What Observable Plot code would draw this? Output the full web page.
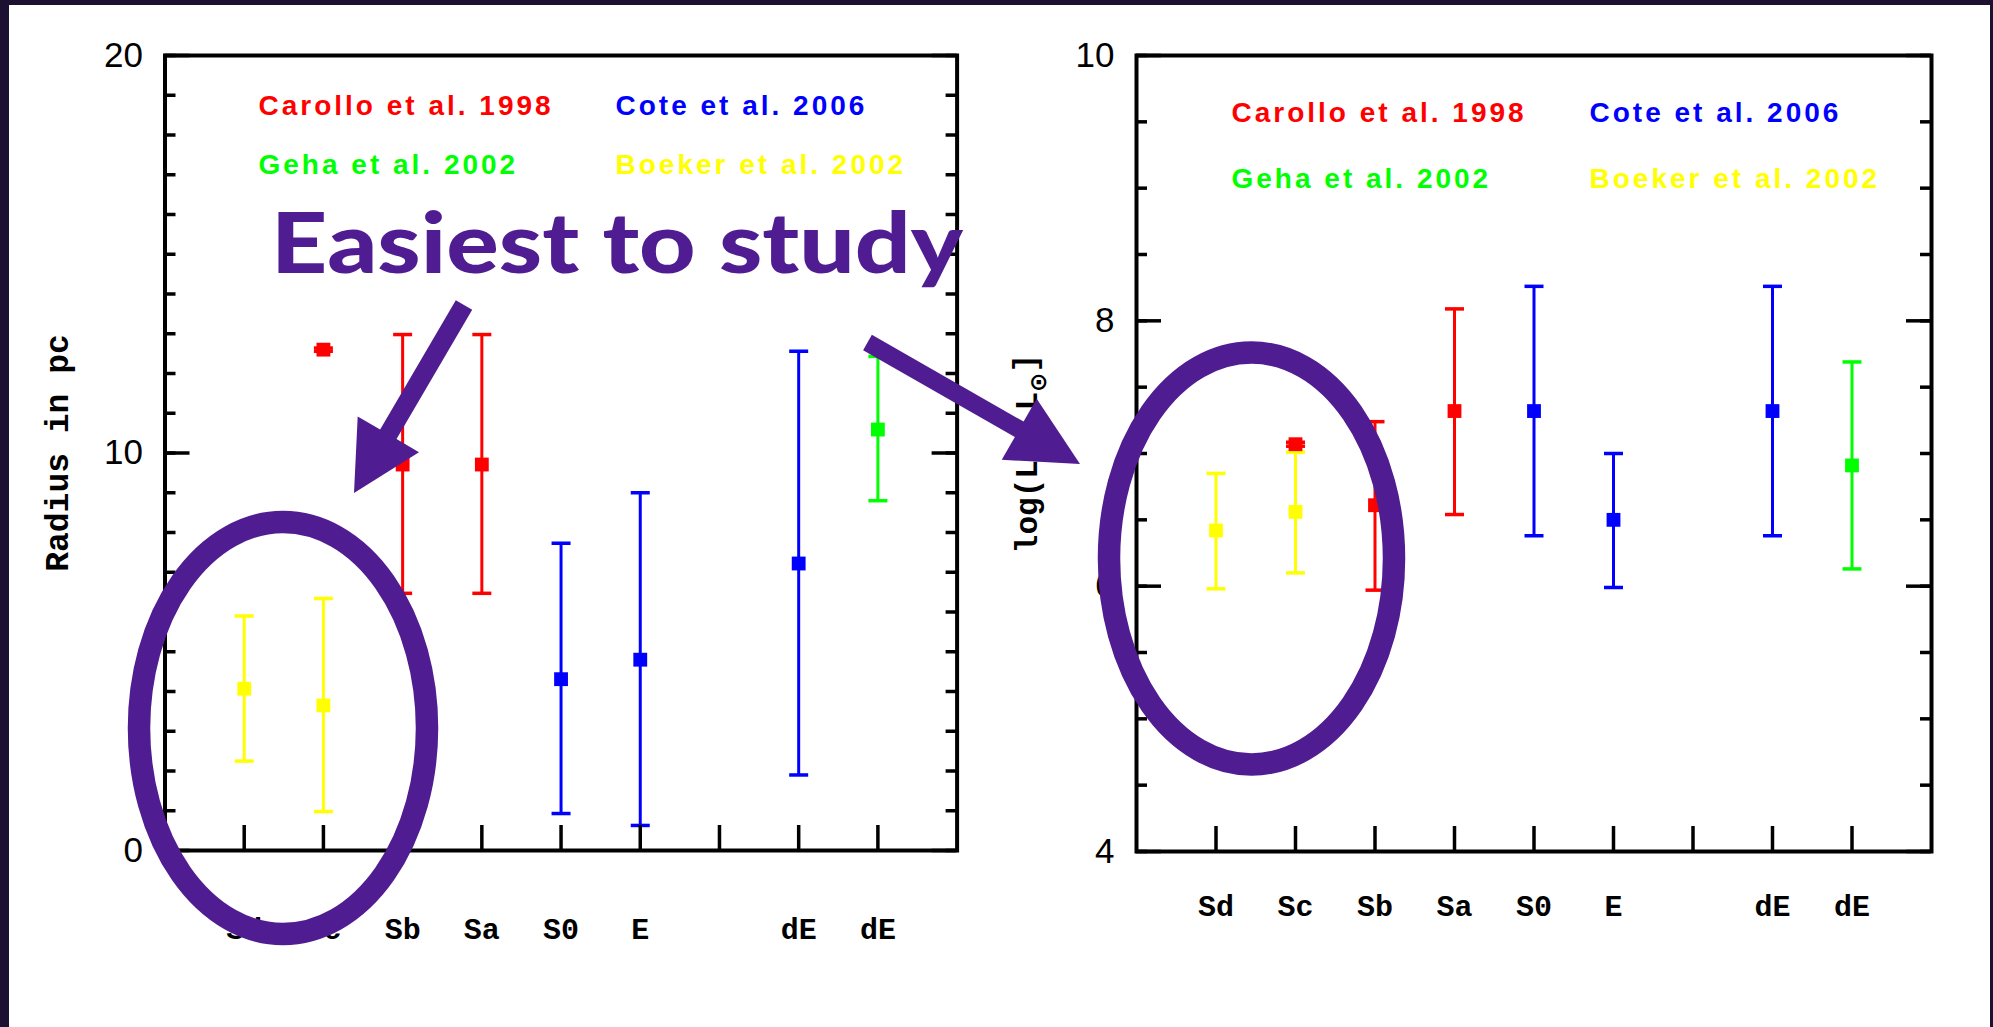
<!DOCTYPE html>
<html><head><meta charset="utf-8">
<script src="https://cdn.jsdelivr.net/npm/d3@7"></script>
<script src="https://cdn.jsdelivr.net/npm/@observablehq/plot@0.6"></script>
<style>
html,body{margin:0;padding:0;width:1993px;height:1027px;overflow:hidden;background:#1c1130;}
#paper{position:absolute;left:9px;top:5px;width:1981px;height:1022px;background:#fff;}
.panel{position:absolute;top:0;}
#overlay{position:absolute;left:0;top:0;pointer-events:none;}
</style></head><body>
<div id="paper"></div>
<div id="left" class="panel" style="left:0px"></div>
<div id="right" class="panel" style="left:1000px"></div>
<svg id="overlay" width="1993" height="1027"></svg>
<script>
// ---- data ----
const categories = ["Sd", "Sc", "Sb", "Sa", "S0", "E", "", "dE", "dE"];
const sources = ["Carollo et al. 1998", "Cote et al. 2006", "Geha et al. 2002", "Boeker et al. 2002"];
const sourceColors = ["#ff0000", "#0000ff", "#00ff00", "#ffff00"];
const legendCol = [0, 1, 0, 1];
const legendRow = [0, 0, 1, 1];

// one entry per measured point: slot on the x axis and source index
const pointSlot =   [1, 2, 2, 3, 4, 5, 6, 8, 9];
const pointSource = [3, 3, 0, 0, 0, 1, 1, 1, 2];

// Radius in pc
const radiusValue = [4.07, 3.65, 12.60, 9.71, 9.71, 4.31, 4.80, 7.22, 10.59];
const radiusLow   = [2.25, 0.98, 12.56, 6.47, 6.47, 0.93, 0.63, 1.90, 8.80];
const radiusHigh  = [5.90, 6.34, 12.64, 12.98, 12.98, 7.73, 9.00, 12.56, 12.43];

// log luminosity
const lumValue = [6.42, 6.56, 7.07, 6.61, 7.32, 7.32, 6.50, 7.32, 6.91];
const lumLow   = [5.98, 6.10, 7.055, 5.97, 6.54, 6.38, 5.99, 6.38, 6.13];
const lumHigh  = [6.85, 7.01, 7.085, 7.24, 8.09, 8.26, 7.00, 8.26, 7.69];

const radiusMajorTicks = [0, 10, 20];
const radiusMinorTicks = d3.range(0, 21, 1);
const lumMajorTicks = [4, 6, 8, 10];
const lumMinorTicks = d3.range(4, 10.01, 0.5);

// ---- rendering ----
const capSymbol = {
  draw(context, size) {
    const r = Math.sqrt(size / Math.PI);
    context.moveTo(-r, 0);
    context.lineTo(r, 0);
  }
};
const sansFont = "Liberation Sans, Arial, sans-serif";
const legendFont = "Liberation Sans, Arial, sans-serif, legendtag";
const monoFont = "Liberation Mono, Courier New, monospace";
const ytitleFont = "Liberation Mono, Courier New, monospace, ytitletag";

function panel(cfg) {
  const {value, low, high, yDomain, majors, minors, ytitle, ytitleSize, width, height, ml, mr, mt, mb,
         legendDx, legendDy, xlabelDy, ytitleDx} = cfg;
  const fw = width - ml - mr;
  const fh = height - mt - mb;
  const rows = pointSlot.map((s, i) => ({
    slot: s, color: sourceColors[pointSource[i]], v: value[i], lo: low[i], hi: high[i]
  }));
  const slots = categories.map((c, i) => i + 1);
  const legendMarks = sources.map((label, i) => Plot.text([label], {
    frameAnchor: "top-left", dx: legendDx[legendCol[i]], dy: legendDy[legendRow[i]],
    text: d => d, fill: sourceColors[i], textAnchor: "start", lineAnchor: "middle",
    fontSize: 28, fontWeight: "bold", fontFamily: legendFont
  }));
  return Plot.plot({
    width, height,
    marginLeft: ml, marginRight: mr, marginTop: mt, marginBottom: mb,
    style: {background: "transparent", overflow: "visible"},
    x: {domain: [0, 10], axis: null},
    y: {domain: yDomain, axis: null},
    color: {type: "identity"},
    marks: [
      ...legendMarks,
      Plot.ruleX(rows, {x: "slot", y1: "lo", y2: "hi", stroke: "color", strokeWidth: 3}),
      Plot.dot(rows, {x: "slot", y: "lo", symbol: capSymbol, r: 9.5, stroke: "color", strokeWidth: 3.5, fill: "none"}),
      Plot.dot(rows, {x: "slot", y: "hi", symbol: capSymbol, r: 9.5, stroke: "color", strokeWidth: 3.5, fill: "none"}),
      Plot.dot(rows, {x: "slot", y: "v", symbol: "square", r: 7.8, fill: "color", stroke: "none"}),
      Plot.tickY(minors, {y: d => d, insetRight: fw - 11, stroke: "#000", strokeWidth: 3.5}),
      Plot.tickY(minors, {y: d => d, insetLeft: fw - 11, stroke: "#000", strokeWidth: 3.5}),
      Plot.tickY(majors, {y: d => d, insetRight: fw - 25, stroke: "#000", strokeWidth: 3.5}),
      Plot.tickY(majors, {y: d => d, insetLeft: fw - 25, stroke: "#000", strokeWidth: 3.5}),
      Plot.tickX(slots, {x: d => d, insetTop: fh - 25, stroke: "#000", strokeWidth: 3.5}),
      Plot.frame({stroke: "#000", strokeWidth: 4}),
      Plot.text(majors, {y: d => d, text: d => String(d), frameAnchor: "left", dx: -22,
        textAnchor: "end", lineAnchor: "middle", fontSize: 35, fontFamily: sansFont, fill: "#000"}),
      Plot.text(categories, {x: (d, i) => i + 1, text: d => d, frameAnchor: "bottom", dy: xlabelDy,
        textAnchor: "middle", lineAnchor: "middle", fontSize: 30, fontWeight: "bold", fontFamily: monoFont, fill: "#000"}),
      Plot.text([ytitle], {frameAnchor: "left", dx: ytitleDx, rotate: -90, text: d => d,
        textAnchor: "middle", lineAnchor: "middle", fontSize: ytitleSize, fontWeight: "bold",
        fontFamily: ytitleFont, fill: "#000"})
    ]
  });
}

const left = panel({
  value: radiusValue, low: radiusLow, high: radiusHigh, yDomain: [0, 20],
  majors: radiusMajorTicks, minors: radiusMinorTicks, ytitle: "Radius in pc", ytitleSize: 33,
  width: 1000, height: 1000, ml: 164.5, mr: 43.4, mt: 55, mb: 150,
  legendDx: [93.5, 450.5], legendDy: [51, 110], xlabelDy: 79, ytitleDx: -107.5
});
document.getElementById("left").appendChild(left);

const right = panel({
  value: lumValue, low: lumLow, high: lumHigh, yDomain: [4, 10],
  majors: lumMajorTicks, minors: lumMinorTicks, ytitle: "log(L/L⊙]", ytitleSize: 31,
  width: 993, height: 1000, ml: 136, mr: 62, mt: 55, mb: 149,
  legendDx: [95, 453], legendDy: [58, 124], xlabelDy: 55, ytitleDx: -109
});
document.getElementById("right").appendChild(right);

// legend letter spacing (Hershey-like wide spacing)
d3.selectAll("svg").selectAll("[font-family*='legendtag']").style("letter-spacing", "3px");

// subscript sun symbol and wide slash in the luminosity title
d3.select(right).selectAll("[font-family*='ytitletag'] text, text[font-family*='ytitletag']").each(function() {
  const t = d3.select(this);
  t.text(null);
  t.append("tspan").text("log(L");
  t.append("tspan").attr("dx", "0.5em").text("/");
  t.append("tspan").attr("dx", "0.5em").text("L");
  t.append("tspan").attr("dy", "0.35em").attr("font-size", "0.75em").attr("font-family", "DejaVu Sans").text("⊙");
  t.append("tspan").attr("dy", "-0.35em").text("]");
});

// ---- annotations ----
const purple = "#501c91";
const ov = d3.select("#overlay");
ov.append("ellipse").attr("cx", 283).attr("cy", 728).attr("rx", 144).attr("ry", 206)
  .attr("fill", "none").attr("stroke", purple).attr("stroke-width", 22.5);
ov.append("ellipse").attr("cx", 1251.5).attr("cy", 558.5).attr("rx", 142.5).attr("ry", 206)
  .attr("fill", "none").attr("stroke", purple).attr("stroke-width", 22.5);

function arrow(x0, y0, x1, y1, shaftHalf, headLen, headHalf) {
  const dx = x1 - x0, dy = y1 - y0, L = Math.hypot(dx, dy);
  const ux = dx / L, uy = dy / L, nx = -uy, ny = ux;
  const bx = x1 - ux * headLen, by = y1 - uy * headLen;
  const pts = [
    [x0 + nx * shaftHalf, y0 + ny * shaftHalf],
    [bx + nx * shaftHalf, by + ny * shaftHalf],
    [bx + nx * headHalf, by + ny * headHalf],
    [x1, y1],
    [bx - nx * headHalf, by - ny * headHalf],
    [bx - nx * shaftHalf, by - ny * shaftHalf],
    [x0 - nx * shaftHalf, y0 - ny * shaftHalf]
  ];
  ov.append("polygon").attr("points", pts.map(p => p.join(",")).join(" ")).attr("fill", purple);
}
arrow(464, 305, 354, 493, 9.5, 68, 35.5);
arrow(867.5, 342.5, 1080, 464, 8.8, 70, 35.2);

ov.append("text").attr("x", 271).attr("y", 273)
  .attr("font-family", "Lato, 'Open Sans', sans-serif").attr("font-weight", 900)
  .attr("font-size", 83).attr("fill", purple)
  .attr("textLength", 692).attr("lengthAdjust", "spacingAndGlyphs")
  .text("Easiest to study");
</script>
</body></html>
